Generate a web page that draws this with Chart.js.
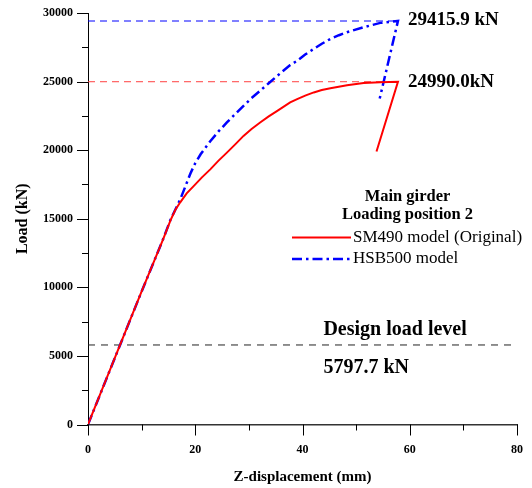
<!DOCTYPE html>
<html lang="en">
<head>
    <meta charset="UTF-8">
    <title>Load - Z-displacement</title>
    <script src="https://cdn.jsdelivr.net/npm/chart.js"></script>
    <style>
        body { margin: 0; background: #fff; }
        #wrap { position: relative; width: 532px; height: 488px; }
    </style>
</head>
<body>
    <div id="wrap"><canvas id="myChart"></canvas></div>

    <script>
        // Datos (mm, kN)
        const sm490Disp = [0, 10, 14, 15.4, 16.3, 17.2, 18.4, 19.7, 21.2, 22.8, 24.3, 25.9, 27.5, 29.0, 30.5, 32.1, 33.7, 35.3, 37.7, 39.0, 40.5, 42.1, 43.6, 45.2, 48.3, 51.4, 54.5, 57.8, 53.8];
        const sm490Load = [0, 9700, 13500, 14900, 15650, 16200, 16850, 17380, 18000, 18600, 19220, 19820, 20440, 21040, 21550, 22020, 22460, 22870, 23480, 23720, 23980, 24210, 24380, 24520, 24740, 24890, 24960, 24990, 19900];
        const hsb500Disp = [0, 10, 14, 15.4, 17.2, 18.2, 19.1, 20.0, 21.0, 22.8, 24.3, 25.9, 27.5, 29.0, 30.5, 32.1, 33.7, 35.3, 37.7, 39.0, 40.5, 42.1, 43.6, 45.2, 46.8, 48.3, 51.4, 54.5, 57.8, 54.4];
        const hsb500Load = [0, 9700, 13500, 14950, 16410, 17400, 18300, 19050, 19700, 20650, 21350, 22020, 22650, 23230, 23800, 24330, 24880, 25420, 26200, 26520, 26970, 27380, 27760, 28110, 28380, 28600, 28960, 29280, 29415.9, 23770];

        const seriesNames = ['SM490 model (Original)', 'HSB500 model'];
        const peakLoads = [24990.0, 29415.9];
        const peakLabels = ['24990.0kN', '29415.9 kN'];
        const peakDisp = 57.8;
        const designLoad = 5797.7;
        const designLabels = ['Design load level', '5797.7 kN'];
        const legendTitle = ['Main girder', 'Loading position 2'];
        const xRange = [0, 80];
        const yRange = [0, 30000];

        const serif = "'Liberation Serif', 'Times New Roman', serif";
        const toPoints = (xs, ys) => xs.map((x, i) => ({ x: x, y: ys[i] }));

        // Marcas de eje mayores y menores + textos
        const extras = {
            id: 'extras',
            afterDraw(chart) {
                const { ctx, chartArea, scales } = chart;
                const xs = scales.x, ys = scales.y;
                ctx.save();
                ctx.strokeStyle = '#000';
                ctx.lineWidth = 1;
                ctx.beginPath();
                ys.ticks.forEach(t => {
                    const p = Math.round(ys.getPixelForValue(t.value)) + 0.5;
                    const len = t.value % 5000 === 0 ? 11 : 6;
                    ctx.moveTo(chartArea.left - len, p);
                    ctx.lineTo(chartArea.left, p);
                });
                xs.ticks.forEach(t => {
                    const p = Math.round(xs.getPixelForValue(t.value)) + 0.5;
                    const len = t.value % 20 === 0 ? 11 : 6;
                    ctx.moveTo(p, chartArea.bottom);
                    ctx.lineTo(p, chartArea.bottom + len);
                });
                ctx.stroke();

                ctx.fillStyle = '#000';
                ctx.textBaseline = 'middle';
                ctx.textAlign = 'left';

                // etiquetas de picos
                ctx.font = 'bold 19px ' + serif;
                const px = xs.getPixelForValue(peakDisp) + 10;
                ctx.fillText(peakLabels[1], px, ys.getPixelForValue(peakLoads[1]) - 1);
                ctx.fillText(peakLabels[0], px, ys.getPixelForValue(peakLoads[0]));

                // nivel de carga de diseño
                ctx.font = 'bold 20px ' + serif;
                const dx = xs.getPixelForValue(43.9);
                const dy = ys.getPixelForValue(designLoad);
                ctx.fillText(designLabels[0], dx, dy - 15);
                ctx.fillText(designLabels[1], dx, dy + 23);

                // leyenda
                ctx.textAlign = 'center';
                ctx.font = 'bold 16.5px ' + serif;
                ctx.fillText(legendTitle[0], 407.5, 197);
                ctx.fillText(legendTitle[1], 407.5, 215);

                ctx.textAlign = 'left';
                ctx.font = '17px ' + serif;
                const rows = [237.5, 259];
                chart.data.datasets.slice(0, 2).forEach((ds, i) => {
                    ctx.strokeStyle = ds.borderColor;
                    ctx.lineWidth = ds.borderWidth;
                    ctx.setLineDash(ds.borderDash || []);
                    ctx.beginPath();
                    ctx.moveTo(292, rows[i]);
                    ctx.lineTo(351, rows[i]);
                    ctx.stroke();
                    ctx.fillText(ds.label, 353, rows[i]);
                });
                ctx.restore();
            }
        };

        const ctx = document.getElementById('myChart').getContext('2d');
        const chart = new Chart(ctx, {
            type: 'line',
            data: {
                datasets: [
                    {
                        label: seriesNames[0],
                        data: toPoints(sm490Disp, sm490Load),
                        borderColor: '#ff0000',
                        borderWidth: 2,
                        pointRadius: 0,
                        tension: 0
                    },
                    {
                        label: seriesNames[1],
                        data: toPoints(hsb500Disp, hsb500Load),
                        borderColor: '#0000ff',
                        borderWidth: 2.5,
                        borderDash: [10, 4, 2.5, 4],
                        pointRadius: 0,
                        tension: 0
                    },
                    {
                        label: 'peak SM490',
                        data: [{ x: 0, y: peakLoads[0] }, { x: peakDisp, y: peakLoads[0] }],
                        borderColor: '#ff4040',
                        borderWidth: 1,
                        borderDash: [7, 5],
                        pointRadius: 0
                    },
                    {
                        label: 'peak HSB500',
                        data: [{ x: 0, y: peakLoads[1] }, { x: peakDisp, y: peakLoads[1] }],
                        borderColor: '#0000ff',
                        borderWidth: 1,
                        borderDash: [7, 5],
                        pointRadius: 0
                    },
                    {
                        label: 'design',
                        data: [{ x: xRange[0], y: designLoad }, { x: xRange[1], y: designLoad }],
                        borderColor: '#222222',
                        borderWidth: 1,
                        borderDash: [7, 6],
                        pointRadius: 0
                    }
                ]
            },
            options: {
                responsive: true,
                maintainAspectRatio: false,
                animation: false,
                layout: { padding: { top: 13, right: 15, left: 0, bottom: 0 } },
                plugins: { legend: { display: false }, tooltip: { enabled: false } },
                scales: {
                    x: {
                        type: 'linear',
                        min: xRange[0],
                        max: xRange[1],
                        afterFit: s => { s.height = 63.5; s.paddingLeft = 0; s.paddingRight = 0; },
                        grid: { display: false, drawTicks: false },
                        border: { display: true, color: '#333', width: 1.5 },
                        ticks: {
                            stepSize: 10,
                            padding: 18,
                            maxRotation: 0,
                            color: '#000',
                            font: { family: serif, size: 12, weight: 'bold' },
                            callback: v => (v % 20 === 0 ? v : '')
                        },
                        title: {
                            display: true,
                            text: 'Z-displacement (mm)',
                            color: '#000',
                            font: { family: serif, size: 15, weight: 'bold' },
                            padding: { top: 0, bottom: 2 }
                        }
                    },
                    y: {
                        type: 'linear',
                        min: yRange[0],
                        max: yRange[1],
                        afterFit: s => { s.width = 88; s.paddingTop = 0; s.paddingBottom = 0; },
                        grid: { display: false, drawTicks: false },
                        border: { display: true, color: '#000', width: 1 },
                        ticks: {
                            stepSize: 2500,
                            padding: 15,
                            color: '#000',
                            font: { family: serif, size: 12, weight: 'bold' },
                            callback: v => (v % 5000 === 0 ? v : '')
                        },
                        title: {
                            display: true,
                            text: 'Load (kN)',
                            color: '#000',
                            font: { family: serif, size: 16, weight: 'bold' },
                            padding: { top: 13, bottom: 0 }
                        }
                    }
                }
            },
            plugins: [extras]
        });
    </script>
</body>
</html>
